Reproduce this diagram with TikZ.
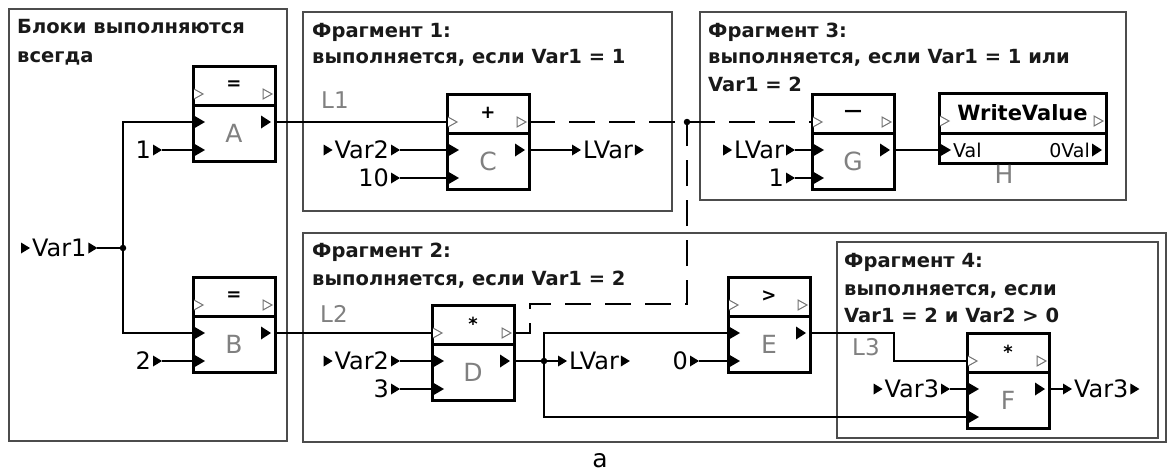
\documentclass[tikz,border=0pt]{standalone}
\usepackage{fontspec}
\setmainfont{DejaVu Sans}
\usetikzlibrary{calc}
\tikzset{
 frag/.style={draw=black!70, line width=1.6pt},
 blk/.style={draw=black, line width=3pt, minimum width=82pt, minimum height=95pt, inner sep=0pt, outer sep=0pt, fill=white},
 divl/.style={line width=3pt},
 wire/.style={line width=1.3pt},
 dwire/.style={line width=1.3pt, dash pattern=on 26pt off 14pt},
 hollow/.style={draw=black!55, line width=1pt, fill=white},
 ttl/.style={font=\fontsize{19.5}{23}\selectfont\bfseries, text=black!90, inner sep=0pt, anchor=base west},
 lbl/.style={font=\fontsize{24}{28}\selectfont, inner ysep=0pt, inner xsep=11pt, text height=17.5pt, text depth=0pt, outer sep=0pt},
 letter/.style={font=\fontsize{25}{28}\selectfont, text=black!50, inner sep=0pt},
 sym/.style={font=\fontsize{18}{20}\selectfont\bfseries, inner sep=0pt},
 jdot/.style={circle, fill=black, inner sep=0pt, minimum size=6.5pt},
}
\newcommand\labR[4]{%
 \node[lbl, anchor=#2] (#1) at (#3) {#4};
 \fill ([xshift=-9pt,yshift=5.5pt]#1.east) -- ++(9pt,-5.5pt) -- ++(-9pt,-5.5pt) -- cycle;}
\newcommand\labLR[4]{%
 \node[lbl, anchor=#2] (#1) at (#3) {#4};
 \fill ([xshift=-9pt,yshift=5.5pt]#1.east) -- ++(9pt,-5.5pt) -- ++(-9pt,-5.5pt) -- cycle;
 \fill ([yshift=5.5pt]#1.west) -- ++(9pt,-5.5pt) -- ++(-9pt,-5.5pt) -- cycle;}
\newcommand\mkblk[5]{%
 \node[blk, anchor=north west] (#1) at (#2,#3) {};
 \draw[divl] ([yshift=-39pt]#1.north west) -- ([yshift=-39pt]#1.north east);
 \coordinate (#1-hi) at ([yshift=-28pt]#1.north west);
 \coordinate (#1-ho) at ([yshift=-28pt]#1.north east);
 \coordinate (#1-i1) at ([yshift=-56pt]#1.north west);
 \coordinate (#1-i2) at ([yshift=-84pt]#1.north west);
 \coordinate (#1-o) at ([yshift=-56pt]#1.north east);
 \node[sym] (#1-s) at ([yshift=-19pt]#1.north) {#4};
 \node[letter] (#1-l) at ([yshift=-67pt]#1.north) {#5};
 \draw[hollow] ([xshift=1pt,yshift=5pt]#1-hi) -- ++(9pt,-5pt) -- ++(-9pt,-5pt);
 \draw[hollow] ([xshift=-12pt,yshift=5pt]#1-ho) -- ++(9pt,-5pt) -- ++(-9pt,-5pt) -- cycle;
 \fill ([yshift=7pt]#1-i1) -- ++(12pt,-7pt) -- ++(-12pt,-7pt) -- cycle;
 \fill ([yshift=7pt]#1-i2) -- ++(12pt,-7pt) -- ++(-12pt,-7pt) -- cycle;
 \fill ([xshift=-14pt,yshift=6.5pt]#1-o) -- ++(10pt,-6.5pt) -- ++(-10pt,-6.5pt) -- cycle;}
\begin{document}
\begin{tikzpicture}[x=1pt,y=-1pt]
\useasboundingbox (0,0) rectangle (1168,472);
\fill[white] (0,0) rectangle (1168,472);
% fragment frames
\draw[frag] (9,9) rectangle (287,441);
\draw[frag] (303,12) rectangle (672,211);
\draw[frag] (700,12) rectangle (1126,200);
\draw[frag] (303,233) rectangle (1166,442);
\draw[frag] (837,242) rectangle (1158,438);
% titles
\node[ttl] (t0a) at (17,33) {Блоки выполняются};
\node[ttl] (t0b) at (17,62) {всегда};
\node[ttl] (t1a) at (312,37) {Фрагмент 1:};
\node[ttl] (t1b) at (312,63) {выполняется, если Var1 = 1};
\node[ttl] (t3a) at (708,37) {Фрагмент 3:};
\node[ttl] (t3b) at (708,63) {выполняется, если Var1 = 1 или};
\node[ttl] (t3c) at (708,91) {Var1 = 2};
\node[ttl] (t2a) at (312,257) {Фрагмент 2:};
\node[ttl] (t2b) at (312,285) {выполняется, если Var1 = 2};
\node[ttl] (t4a) at (844,267) {Фрагмент 4:};
\node[ttl] (t4b) at (844,295) {выполняется, если};
\node[ttl] (t4c) at (844,322) {Var1 = 2 и Var2 > 0};
% link labels
\node[letter, font=\fontsize{23}{26}\selectfont, anchor=base west] (L1) at (321,108) {L1};
\node[letter, font=\fontsize{23}{26}\selectfont, anchor=base west] (L2) at (320,322) {L2};
\node[letter, font=\fontsize{23}{26}\selectfont, anchor=base west] (L3) at (852,355) {L3};
% blocks
\mkblk{A}{193}{66}{=}{A}
\mkblk{B}{193}{277}{=}{B}
\mkblk{C}{447}{94}{+}{C}
\mkblk{G}{812}{94}{—}{G}
\mkblk{D}{432}{305}{*}{D}
\mkblk{E}{728}{277}{>}{E}
\mkblk{F}{967}{333}{*}{F}
% block H
\node[blk, minimum width=167pt, minimum height=70pt, anchor=north west] (H) at (939,93) {};
\draw[divl] ([yshift=-40pt]H.north west) -- ([yshift=-40pt]H.north east);
\node[font=\fontsize{21}{24}\selectfont\bfseries, inner sep=0pt] (H-t) at ([yshift=-20pt]H.north) {WriteValue};
\coordinate (H-hi) at ([yshift=-28pt]H.north west);
\coordinate (H-ho) at ([yshift=-28pt]H.north east);
\coordinate (H-i) at ([yshift=-57pt]H.north west);
\coordinate (H-o) at ([yshift=-57pt]H.north east);
\draw[hollow] ([xshift=1pt,yshift=5pt]H-hi) -- ++(9pt,-5pt) -- ++(-9pt,-5pt);
\draw[hollow] ([xshift=-12pt,yshift=5pt]H-ho) -- ++(9pt,-5pt) -- ++(-9pt,-5pt) -- cycle;
\fill ([yshift=7pt]H-i) -- ++(12pt,-7pt) -- ++(-12pt,-7pt) -- cycle;
\fill ([xshift=-14pt,yshift=6.5pt]H-o) -- ++(10pt,-6.5pt) -- ++(-10pt,-6.5pt) -- cycle;
\node[font=\fontsize{19}{21}\selectfont, inner sep=0pt, anchor=west] (H-v) at ([xshift=14pt]H-i) {Val};
\node[font=\fontsize{19}{21}\selectfont, inner sep=0pt, anchor=east] (H-ov) at ([xshift=-16pt]H-o) {0Val};
\node[letter] (H-l) at (1004,174) {H};
% value labels
\labLR{v1}{west}{21,248}{Var1}
\labR{one1}{east}{162,150}{1}
\labR{two}{east}{162,361}{2}
\labLR{v2a}{east}{400,150}{Var2}
\labR{ten}{east}{400,178}{10}
\labLR{lv1}{west}{572,150}{LVar}
\labLR{lv2}{east}{795,150}{LVar}
\labR{one3}{east}{795,178}{1}
\labLR{v2b}{east}{400,361}{Var2}
\labR{three}{east}{400,389}{3}
\labLR{lv3}{west}{558,361}{LVar}
\labR{zero}{east}{699,361}{0}
\labLR{v3a}{east}{950,389}{Var3}
\labLR{v3b}{west}{1063,389}{Var3}
% junctions and corner points
\node[jdot] (j1) at (123,248) {};
\node[jdot] (j2) at (687,122) {};
\node[jdot] (j3) at (544,361) {};
\coordinate (k1) at (530,304);
\coordinate (k2) at (687,304);
\coordinate (m1) at (894,333);
% connectors
\draw[wire] (v1.east) -- (j1.center);
\draw[wire] (A-i1) -| (j1.center) |- (B-i1);
\draw[wire] (one1.east) -- (A-i2);
\draw[wire] (two.east) -- (B-i2);
\draw[wire] (A-o) -- (C-hi);
\draw[wire] (B-o) -- (D-hi);
\draw[dwire] (C-ho) -- (j2.center) -- (G-hi);
\draw[dwire] (D-ho) -| (k1) -- (k2) -- (j2.center);
\draw[wire] (v2a.east) -- (C-i1);
\draw[wire] (ten.east) -- (C-i2);
\draw[wire] (C-o) -- (lv1.west);
\draw[wire] (lv2.east) -- (G-i1);
\draw[wire] (one3.east) -- (G-i2);
\draw[wire] (G-o) -- (H-i);
\draw[wire] (v2b.east) -- (D-i1);
\draw[wire] (three.east) -- (D-i2);
\draw[wire] (D-o) -- (j3.center) -- (lv3.west);
\draw[wire] (j3.center) |- (E-i1);
\draw[wire] (j3.center) |- (F-i2);
\draw[wire] (zero.east) -- (E-i2);
\draw[wire] (E-o) -- (m1) |- (F-hi);
\draw[wire] (v3a.east) -- (F-i1);
\draw[wire] (F-o) -- (v3b.west);
% caption
\node[font=\fontsize{25}{28}\selectfont, inner sep=0pt, anchor=base] (cap) at (600,467) {a};
\end{tikzpicture}
\end{document}
